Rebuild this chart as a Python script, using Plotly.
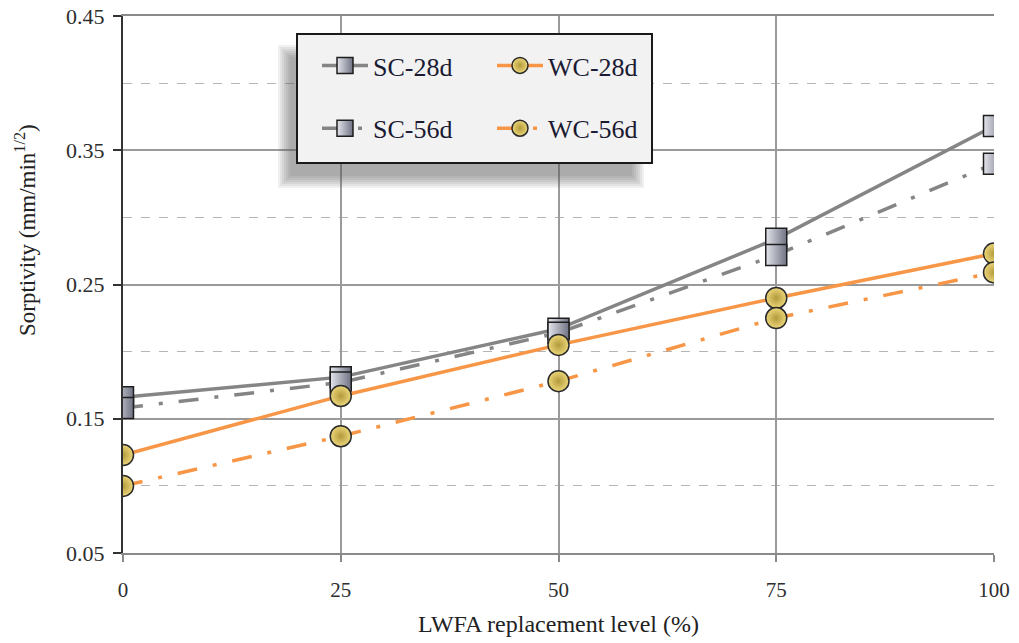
import plotly.graph_objects as go

# LWFA replacement level (%)
replacement = [0, 25, 50, 75, 100]

# Sorptivity (mm/min^1/2)
sc_28d = [0.166, 0.181, 0.217, 0.284, 0.368]
sc_56d = [0.158, 0.177, 0.214, 0.272, 0.340]
wc_28d = [0.123, 0.167, 0.205, 0.240, 0.273]
wc_56d = [0.100, 0.137, 0.178, 0.225, 0.259]

y_ticks = [0.05, 0.15, 0.25, 0.35, 0.45]
x_ticks = [0, 25, 50, 75, 100]

W, H = 1019, 643
L, R, T, B = 123, 25, 16, 90
PW, PH = W - L - R, H - T - B


def px_x(p):
    return (p - L) / PW


def px_y(p):
    return 1 - (p - T) / PH


SERIF = "Liberation Serif"
GRAY = "#858585"
ORANGE = "#f79646"
DASHDOT = "20px,16px,4px,16px"

square = dict(symbol="square", size=21, color="#e4e5ec",
              gradient=dict(type="horizontal", color="#6f7283"),
              line=dict(color="#1e1e1e", width=1.5))
circle = dict(symbol="circle", size=21, color="#ecd77a",
              gradient=dict(type="radial", color="#b39a3c"),
              line=dict(color="#2a2a2a", width=1.5))

fig = go.Figure()
fig.add_trace(go.Scatter(x=replacement, y=sc_28d, name="SC-28d", mode="lines+markers",
                         line=dict(color=GRAY, width=3.5), marker=square,
                         legend="legend", legendgroup="a"))
fig.add_trace(go.Scatter(x=replacement, y=sc_56d, name="SC-56d", mode="lines+markers",
                         line=dict(color=GRAY, width=3.5, dash=DASHDOT), marker=square,
                         legend="legend", legendgroup="b"))
fig.add_trace(go.Scatter(x=replacement, y=wc_28d, name="WC-28d", mode="lines+markers",
                         line=dict(color=ORANGE, width=3.5), marker=circle,
                         legend="legend2", legendgroup="c"))
fig.add_trace(go.Scatter(x=replacement, y=wc_56d, name="WC-56d", mode="lines+markers",
                         line=dict(color=ORANGE, width=3.5, dash=DASHDOT), marker=circle,
                         legend="legend2", legendgroup="d"))

# legend frame with a soft drop shadow
shapes = []
for i in range(7):
    g = 7 - 2 * i
    shapes.append(dict(type="rect", xref="paper", yref="paper", layer="above",
                       x0=px_x(285 - g), x1=px_x(637 + g),
                       y0=px_y(181 + g), y1=px_y(52 - g),
                       fillcolor="#5a5a5a", opacity=0.09, line=dict(width=0)))
shapes.append(dict(type="rect", xref="paper", yref="paper", layer="above",
                   x0=px_x(297), x1=px_x(652), y0=px_y(163), y1=px_y(34),
                   fillcolor="#f2f2f2", line=dict(color="#1a1a1a", width=2)))

legend_common = dict(bgcolor="rgba(0,0,0,0)", borderwidth=0, tracegroupgap=26,
                     itemwidth=46, xanchor="left", yanchor="top",
                     font=dict(family=SERIF, size=26, color="#1a1a33"))

fig.update_layout(
    width=W, height=H,
    margin=dict(l=L, r=R, t=T, b=B),
    paper_bgcolor="white", plot_bgcolor="white",
    font=dict(family=SERIF, color="#333333"),
    shapes=shapes,
    legend=dict(x=px_x(317), y=px_y(42), **legend_common),
    legend2=dict(x=px_x(492), y=px_y(42), **legend_common),
    xaxis=dict(range=[0, 100], tickvals=x_ticks, ticktext=[str(v) for v in x_ticks],
               automargin=False,
               showgrid=True, gridcolor="#9a9a9a", gridwidth=1.5,
               showline=True, linecolor="#8a8a8a", linewidth=1.5, mirror=True,
               ticks="outside", ticklen=7, tickcolor="#8a8a8a", tickwidth=1.5,
               ticklabelstandoff=10,
               tickfont=dict(family=SERIF, size=21, color="#2e2e2e"),
               zeroline=False,
               title=dict(text="LWFA replacement level (%)", standoff=14,
                          font=dict(family=SERIF, size=24, color="#222222"))),
    yaxis=dict(range=[0.05, 0.45], tickvals=y_ticks, ticktext=["%.2f" % v for v in y_ticks],
               automargin=False,
               showgrid=True, gridcolor="#9a9a9a", gridwidth=1.5,
               showline=True, linecolor="#333333", linewidth=2,
               ticks="outside", ticklen=8, tickcolor="#333333", tickwidth=1.5,
               ticklabelstandoff=4,
               tickfont=dict(family=SERIF, size=22, color="#2e2e2e"),
               zeroline=False,
               minor=dict(tickvals=[0.1, 0.2, 0.3, 0.4], showgrid=True,
                          gridcolor="#b5b5b5", griddash="dash", gridwidth=1.2, ticks="")),
    annotations=[dict(text="Sorptivity (mm/min<sup>1/2</sup>)", xref="paper", yref="paper",
                      x=px_x(25), y=px_y(230), textangle=-90, showarrow=False,
                      xanchor="center", yanchor="middle",
                      font=dict(family=SERIF, size=23, color="#222222"))],
)

fig.write_html("out.html")
